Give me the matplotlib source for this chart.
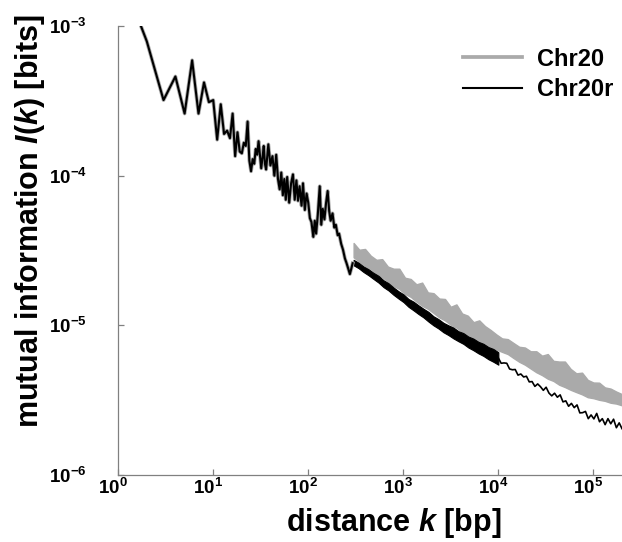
"""Mutual information I(k) vs distance k for Chr20 and its reshuffled copy Chr20r."""

import numpy as np
import matplotlib
matplotlib.use("Agg")
import matplotlib.pyplot as plt
from matplotlib.transforms import ScaledTranslation

plt.rcParams.update({
    "font.family": "Liberation Sans",
    "font.weight": "bold",
    "axes.labelweight": "bold",
    "mathtext.fontset": "custom",
    "mathtext.rm": "Liberation Sans:bold",
    "mathtext.it": "Liberation Sans:italic:bold",
    "mathtext.bf": "Liberation Sans:bold",
})

# ---- data ---------------------------------------------------------------
# short distances: both curves coincide
K_SHORT = [1, 2, 3, 4, 5, 6, 7, 8, 9, 10, 11, 12, 13, 14, 15, 16, 17, 18, 19, 20,
           21, 22, 23, 24, 25, 26, 27, 28, 29, 30, 32, 33, 34, 35, 36, 38, 40, 42,
           44, 46, 48, 50, 52, 54, 56, 58, 60, 63, 66, 69, 72, 75, 78, 81, 85, 88,
           92, 96, 100, 104, 108, 113, 117, 121, 126, 132, 137, 142, 148, 154, 160,
           166, 172, 180, 188, 195, 204, 211, 222, 232, 243, 253, 263, 274, 284, 293]
I_SHORT = [2.5e-3, 7.9e-4, 3.2e-4, 4.6e-4, 2.6e-4, 5.9e-4, 2.6e-4, 4.2e-4, 3.1e-4, 3.2e-4,
           1.74e-4, 3.0e-4, 1.9e-4, 2.0e-4, 1.78e-4, 2.6e-4, 1.35e-4, 1.95e-4, 1.45e-4, 1.41e-4,
           1.66e-4, 1.58e-4, 2.3e-4, 1.26e-4, 1.07e-4, 1.29e-4, 1.20e-4, 1.51e-4, 1.38e-4, 1.70e-4,
           1.12e-4, 1.32e-4, 1.58e-4, 1.20e-4, 1.10e-4, 1.62e-4, 1.17e-4, 1.35e-4, 1.00e-4, 1.38e-4,
           9.5e-5, 8.1e-5, 1.05e-4, 7.4e-5, 9.5e-5, 6.9e-5, 9.8e-5, 6.6e-5, 8.9e-5, 1.02e-4,
           6.9e-5, 9.3e-5, 6.8e-5, 8.5e-5, 6.3e-5, 8.9e-5, 5.9e-5, 7.6e-5, 6.6e-5, 5.2e-5,
           4.9e-5, 3.9e-5, 5.0e-5, 4.1e-5, 5.5e-5, 8.5e-5, 4.7e-5, 6.0e-5, 5.1e-5, 6.6e-5,
           7.9e-5, 5.8e-5, 5.0e-5, 5.6e-5, 4.5e-5, 4.7e-5, 4.0e-5, 4.1e-5, 3.5e-5, 3.2e-5,
           2.8e-5, 2.6e-5, 2.4e-5, 2.2e-5, 2.4e-5, 2.6e-5]

# Chr20, k = 300 ... 2e5: top / bottom of the noisy band (log-spaced samples)
CHR20_HI = [
    3.55e-5, 3.20e-5, 3.24e-5, 2.92e-5, 2.74e-5, 2.77e-5, 2.47e-5, 2.39e-5, 2.39e-5, 2.08e-5,
    2.04e-5, 1.88e-5, 1.93e-5, 1.66e-5, 1.64e-5, 1.51e-5, 1.50e-5, 1.33e-5, 1.38e-5, 1.20e-5,
    1.16e-5, 1.05e-5, 1.08e-5, 9.89e-6, 9.31e-6, 8.69e-6, 8.18e-6, 8.09e-6, 7.62e-6, 7.19e-6,
    7.11e-6, 6.71e-6, 6.71e-6, 6.27e-6, 6.43e-6, 5.79e-6, 5.73e-6, 5.73e-6, 5.12e-6, 4.78e-6,
    4.83e-6, 4.32e-6, 4.15e-6, 4.14e-6, 3.85e-6, 3.78e-6, 3.61e-6, 3.47e-6]
CHR20_LO = [
    2.85e-5, 2.66e-5, 2.49e-5, 2.38e-5, 2.20e-5, 2.10e-5, 1.96e-5, 1.83e-5, 1.75e-5, 1.62e-5,
    1.55e-5, 1.44e-5, 1.35e-5, 1.29e-5, 1.21e-5, 1.13e-5, 1.08e-5, 1.01e-5, 9.66e-6, 9.02e-6,
    8.61e-6, 8.04e-6, 7.76e-6, 7.41e-6, 7.14e-6, 6.90e-6, 6.65e-6, 6.43e-6, 6.05e-6, 5.71e-6,
    5.46e-6, 5.15e-6, 4.86e-6, 4.65e-6, 4.40e-6, 4.25e-6, 4.01e-6, 3.87e-6, 3.71e-6, 3.58e-6,
    3.46e-6, 3.31e-6, 3.26e-6, 3.18e-6, 3.13e-6, 3.04e-6, 3.00e-6, 2.92e-6]

# Chr20r, k = 300 ... 1e4: top / bottom of the dense band
CHR20R_HI = [
    2.74e-5, 2.62e-5, 2.47e-5, 2.37e-5, 2.24e-5, 2.14e-5, 2.00e-5, 1.91e-5, 1.79e-5, 1.69e-5,
    1.61e-5, 1.50e-5, 1.44e-5, 1.36e-5, 1.29e-5, 1.23e-5, 1.15e-5, 1.10e-5, 1.04e-5, 1.00e-5,
    9.66e-6, 9.14e-6, 8.87e-6, 8.41e-6, 8.15e-6, 7.76e-6, 7.53e-6, 7.16e-6, 6.95e-6, 6.61e-6]
CHR20R_LO = [
    2.52e-5, 2.41e-5, 2.27e-5, 2.16e-5, 2.04e-5, 1.93e-5, 1.80e-5, 1.71e-5, 1.60e-5, 1.51e-5,
    1.43e-5, 1.33e-5, 1.26e-5, 1.19e-5, 1.13e-5, 1.06e-5, 1.00e-5, 9.53e-6, 8.99e-6, 8.61e-6,
    8.18e-6, 7.83e-6, 7.52e-6, 7.11e-6, 6.82e-6, 6.50e-6, 6.25e-6, 5.94e-6, 5.71e-6, 5.46e-6]

# Chr20r, k = 1e4 ... 2e5: single thin noisy line
I_CHR20R_TAIL = [
    6.05e-6, 5.58e-6, 5.61e-6, 5.58e-6, 5.11e-6, 5.05e-6, 5.07e-6, 4.65e-6, 4.73e-6, 4.52e-6,
    4.57e-6, 4.19e-6, 4.21e-6, 3.91e-6, 4.06e-6, 3.89e-6, 3.68e-6, 3.86e-6, 3.53e-6, 3.38e-6,
    3.52e-6, 3.31e-6, 3.43e-6, 3.08e-6, 3.13e-6, 2.88e-6, 3.01e-6, 2.82e-6, 2.94e-6, 2.60e-6,
    2.61e-6, 2.66e-6, 2.38e-6, 2.52e-6, 2.37e-6, 2.58e-6, 2.27e-6, 2.38e-6, 2.17e-6, 2.38e-6,
    2.20e-6, 2.36e-6, 2.07e-6, 2.23e-6, 2.04e-6]

K_MAX = 2.0e5
GRAY = "#aaaaaa"


def main():
    k_g = np.geomspace(300, K_MAX, len(CHR20_HI))
    k_bm = np.geomspace(300, 1e4, len(CHR20R_HI))
    k_bt = np.geomspace(1e4, K_MAX, len(I_CHR20R_TAIL))

    fig = plt.figure(figsize=(6.22, 5.42), dpi=100)
    ax = fig.add_axes([0.190, 0.1236, 0.810, 0.8284])
    ax.set_xscale("log")
    ax.set_yscale("log")

    # Chr20 (grey, thick) underneath
    l1, = ax.plot(K_SHORT, I_SHORT, color=GRAY, lw=2.7, label="Chr20")
    ax.fill_between(k_g, CHR20_LO, CHR20_HI, color=GRAY, lw=1.0, ec=GRAY)

    # Chr20r (black, thin) on top
    l2, = ax.plot(K_SHORT, I_SHORT, color="black", lw=1.5, label="Chr20r")
    ax.fill_between(k_bm, CHR20R_LO, CHR20R_HI, color="black", lw=0.8, ec="black")
    ax.plot(k_bt, I_CHR20R_TAIL, color="black", lw=1.2)

    ax.set_xlim(1, K_MAX)
    ax.set_ylim(1e-6, 1e-3)
    ax.set_xticks([1e0, 1e1, 1e2, 1e3, 1e4, 1e5])
    ax.set_yticks([1e-6, 1e-5, 1e-4, 1e-3])
    ax.minorticks_off()

    for side in ("top", "right"):
        ax.spines[side].set_visible(False)
    for side in ("left", "bottom"):
        ax.spines[side].set_color("#808080")
        ax.spines[side].set_linewidth(0.9)
    ax.tick_params(direction="in", length=4.5, width=0.9, color="#808080",
                   labelsize=13.5)
    ax.tick_params(axis="y", pad=22.5)
    ax.tick_params(axis="x", pad=2)
    shift = ScaledTranslation(-5 / 100, 0, fig.dpi_scale_trans)
    for lab in ax.get_xticklabels():
        lab.set_transform(lab.get_transform() + shift)

    ax.set_xlabel("distance $k$ [bp]", fontsize=22)
    ax.set_ylabel("mutual information $I$($k$) [bits]", fontsize=22)
    ax.xaxis.set_label_coords(0.546, -0.068)
    ax.yaxis.set_label_coords(-0.142, 0.565)

    ax.legend(handles=[l1, l2], loc="upper left", bbox_to_anchor=(463 / 622, 0.912),
              bbox_transform=fig.transFigure, frameon=False, fontsize=17,
              handlelength=2.5, handletextpad=0.62, labelspacing=0.3,
              borderpad=0, borderaxespad=0)

    fig.savefig("out.png", dpi=100)


if __name__ == "__main__":
    main()
